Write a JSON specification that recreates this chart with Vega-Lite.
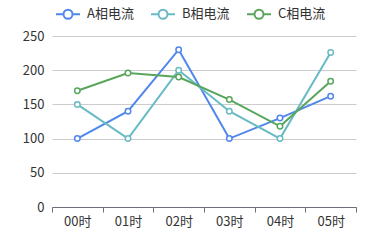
{
  "$schema": "https://vega.github.io/schema/vega-lite/v6.json",
  "width": 304,
  "height": 171,
  "autosize": {"type": "none"},
  "padding": {"left": 52, "top": 36, "right": 19, "bottom": 33},
  "config": {
    "view": {"stroke": null},
    "font": "Noto Sans CJK SC",
    "axis": {"labelFont": "Noto Sans CJK SC", "labelFontSize": 13, "labelColor": "#333333"},
    "legend": {"labelFont": "Noto Sans CJK SC", "labelFontSize": 13, "labelColor": "#333333"}
  },
  "data": {
    "values": [
      {"hour": "00时", "series": "A相电流", "value": 100},
      {"hour": "01时", "series": "A相电流", "value": 140},
      {"hour": "02时", "series": "A相电流", "value": 230},
      {"hour": "03时", "series": "A相电流", "value": 100},
      {"hour": "04时", "series": "A相电流", "value": 130},
      {"hour": "05时", "series": "A相电流", "value": 162},
      {"hour": "00时", "series": "B相电流", "value": 150},
      {"hour": "01时", "series": "B相电流", "value": 100},
      {"hour": "02时", "series": "B相电流", "value": 200},
      {"hour": "03时", "series": "B相电流", "value": 140},
      {"hour": "04时", "series": "B相电流", "value": 100},
      {"hour": "05时", "series": "B相电流", "value": 226},
      {"hour": "00时", "series": "C相电流", "value": 170},
      {"hour": "01时", "series": "C相电流", "value": 196},
      {"hour": "02时", "series": "C相电流", "value": 190},
      {"hour": "03时", "series": "C相电流", "value": 157},
      {"hour": "04时", "series": "C相电流", "value": 118},
      {"hour": "05时", "series": "C相电流", "value": 184}
    ]
  },
  "encoding": {
    "x": {
      "field": "hour", "type": "ordinal", "title": null,
      "scale": {"type": "band", "paddingInner": 0, "paddingOuter": 0},
      "axis": {"labelAngle": 0, "tickBand": "extent", "domainColor": "#6e7079", "tickColor": "#6e7079", "tickSize": 5, "labelPadding": 3, "grid": false}
    },
    "y": {
      "field": "value", "type": "quantitative", "title": null,
      "scale": {"domain": [0, 250]},
      "axis": {"values": [0, 50, 100, 150, 200, 250], "domain": false, "ticks": false, "labelPadding": 8, "gridColor": "#cccccc"}
    },
    "color": {
      "field": "series", "type": "nominal",
      "scale": {"domain": ["A相电流", "B相电流", "C相电流"], "range": ["#5087ec", "#68bbc4", "#58a55c"]},
      "legend": {
        "title": null, "orient": "none", "direction": "horizontal",
        "legendX": 3, "legendY": -35,
        "symbolType": "M-1,0L-0.375,0M0.375,0L1,0M-0.375,0A0.375,0.375 0 1,0 0.375,0A0.375,0.375 0 1,0 -0.375,0",
        "symbolSize": 576, "symbolStrokeWidth": 2, "symbolFillColor": "white",
        "labelOffset": 6, "columnPadding": 13
      }
    }
  },
  "layer": [
    {"mark": {"type": "line", "strokeWidth": 2}},
    {"mark": {"type": "point", "filled": false, "fill": "white", "fillOpacity": 1, "size": 30, "strokeWidth": 1.5, "opacity": 1}}
  ]
}
